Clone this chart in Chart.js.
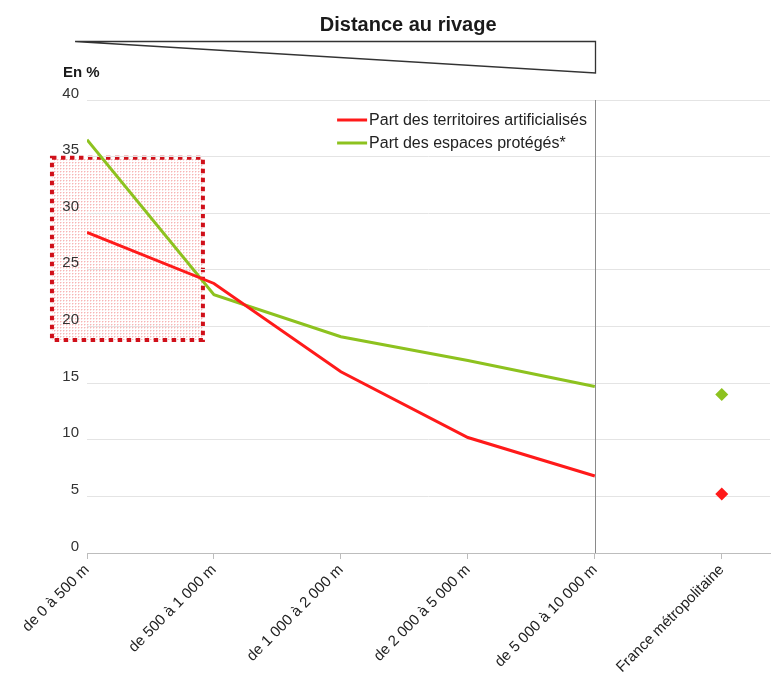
<!DOCTYPE html>
<html><head><meta charset="utf-8">
<script src="https://cdn.jsdelivr.net/npm/chart.js@4/dist/chart.umd.min.js"></script>
<style>html,body{margin:0;padding:0;background:#fff}#wrap{width:771px;height:674px}</style>
</head><body><div id="wrap"><canvas id="c" width="771" height="674"></canvas></div>
<script>
// ---- data ----
const categories = ["de 0 à 500 m", "de 500 à 1 000 m", "de 1 000 à 2 000 m", "de 2 000 à 5 000 m", "de 5 000 à 10 000 m", "France métropolitaine"];
const artificialises = [28.3, 23.8, 16.0, 10.2, 6.8];
const proteges = [36.5, 22.8, 19.1, 17.0, 14.7];
const franceArtificialises = [5.2];
const franceProteges = [14.0];
const seriesLabels = ["Part des territoires artificialisés", "Part des espaces protégés*"];
const titleText = "Distance au rivage";
const unitText = "En %";
const yTickValues = [0, 5, 10, 15, 20, 25, 30, 35, 40];
// highlighted region (in axis units)
const highlightX = [-0.276, 0.913];
const highlightY = [18.8, 34.9];

const RED = '#ff1a1a', GREEN = '#8dc21f';
const FONT = "'Liberation Sans', Arial, sans-serif";

function makePattern(ctx){
  const p = document.createElement('canvas'); p.width = 3; p.height = 3;
  const c = p.getContext('2d');
  c.fillStyle = 'rgba(235,70,70,0.40)'; c.fillRect(0,0,1,1);
  c.fillStyle = 'rgba(235,70,70,0.18)'; c.fillRect(1,0,1,1); c.fillRect(0,1,1,1);
  return ctx.createPattern(p, 'repeat');
}

const decor = {
  id: 'decor',
  beforeDraw(chart){
    const {ctx, scales: {x, y}} = chart;
    ctx.save();
    const x0 = x.getPixelForValue(highlightX[0]), x1 = x.getPixelForValue(highlightX[1]);
    const y0 = y.getPixelForValue(highlightY[1]), y1 = y.getPixelForValue(highlightY[0]);
    ctx.fillStyle = makePattern(ctx);
    ctx.fillRect(x0, y0, x1 - x0, y1 - y0);
    ctx.strokeStyle = '#d0101a'; ctx.lineWidth = 4; ctx.setLineDash([4.5, 4.5]);
    ctx.strokeRect(x0, y0, x1 - x0, y1 - y0);
    ctx.restore();
  },
  beforeDatasetsDraw(chart){
    const {ctx, chartArea: a, scales: {x}} = chart;
    ctx.save();
    const sx = Math.round(x.getPixelForValue(4)) + 0.5;
    ctx.strokeStyle = '#8a8a8a'; ctx.lineWidth = 1;
    ctx.beginPath(); ctx.moveTo(sx, a.top); ctx.lineTo(sx, a.bottom); ctx.stroke();
    ctx.restore();
  },
  afterDraw(chart){
    const {ctx, chartArea: a, scales: {x}} = chart;
    ctx.save();
    // title
    ctx.fillStyle = '#1a1a1a'; ctx.font = "bold 20px " + FONT;
    ctx.textAlign = 'center'; ctx.textBaseline = 'alphabetic';
    ctx.fillText(titleText, x.getPixelForValue(2.53), 31);
    // wedge
    const lx = x.getPixelForValue(-0.094), rx = Math.round(x.getPixelForValue(4)) + 0.5;
    ctx.strokeStyle = '#333'; ctx.lineWidth = 1.3;
    ctx.beginPath(); ctx.moveTo(lx, 41.5); ctx.lineTo(rx, 41.5); ctx.lineTo(rx, 73); ctx.closePath(); ctx.stroke();
    // unit
    ctx.fillStyle = '#1a1a1a'; ctx.font = "bold 15px " + FONT;
    ctx.textAlign = 'left'; ctx.textBaseline = 'alphabetic';
    ctx.fillText(unitText, 63, 77);
    // legend
    const colors = [RED, GREEN];
    const lgX = x.getPixelForValue(1.97);
    ctx.font = "16px " + FONT; ctx.textBaseline = 'middle';
    seriesLabels.forEach((t, i) => {
      const yy = a.top + 20 + i * 23;
      ctx.strokeStyle = colors[i]; ctx.lineWidth = 3;
      ctx.beginPath(); ctx.moveTo(lgX, yy); ctx.lineTo(lgX + 30, yy); ctx.stroke();
      ctx.fillStyle = '#222'; ctx.fillText(t, lgX + 32, yy + 1);
    });
    ctx.restore();
  }
};

const toPts = (arr, off=0) => arr.map((v, i) => ({x: i + off, y: v}));

new Chart(document.getElementById('c'), {
  type: 'line',
  data: {
    datasets: [
      {label: seriesLabels[0], data: toPts(artificialises), borderColor: RED, borderWidth: 3, pointRadius: 0, tension: 0},
      {label: seriesLabels[1], data: toPts(proteges), borderColor: GREEN, borderWidth: 3, pointRadius: 0, tension: 0},
      {label: seriesLabels[0], data: toPts(franceArtificialises, 5), showLine: false, pointStyle: 'rectRot', pointRadius: 6.5, pointBackgroundColor: RED, pointBorderWidth: 0, borderColor: RED},
      {label: seriesLabels[1], data: toPts(franceProteges, 5), showLine: false, pointStyle: 'rectRot', pointRadius: 6.5, pointBackgroundColor: GREEN, pointBorderWidth: 0, borderColor: GREEN}
    ]
  },
  options: {
    responsive: false, animation: false, devicePixelRatio: 1,
    layout: {autoPadding: false, padding: {top: 100, left: 0, right: 1, bottom: 0}},
    plugins: {legend: {display: false}, tooltip: {enabled: false}},
    scales: {
      x: {
        type: 'linear', min: 0, max: 5.38,
        afterFit: s => { s.height = 121; s.paddingLeft = 0; s.paddingRight = 0; },
        afterBuildTicks: s => { s.ticks = categories.map((c, i) => ({value: i})); },
        ticks: {autoSkip: false, maxRotation: 45, minRotation: 45, padding: 2,
          color: '#222', font: {family: FONT, size: 15},
          callback: v => categories[v] ?? ''},
        grid: {drawOnChartArea: false, drawTicks: true, tickLength: 6, color: '#bdbdbd'},
        border: {color: '#bdbdbd'}
      },
      y: {
        min: 0, max: 40,
        afterFit: s => { s.width = 87; s.paddingTop = 0; s.paddingBottom = 0; },
        afterBuildTicks: s => { s.ticks = yTickValues.map(v => ({value: v})); },
        ticks: {color: '#333', padding: 8, font: {family: FONT, size: 15, lineHeight: 0.87},
          callback: v => [String(v), '']},
        grid: {color: '#e4e4e4', drawTicks: false},
        border: {display: false}
      }
    }
  },
  plugins: [decor]
});
</script>
</body></html>
